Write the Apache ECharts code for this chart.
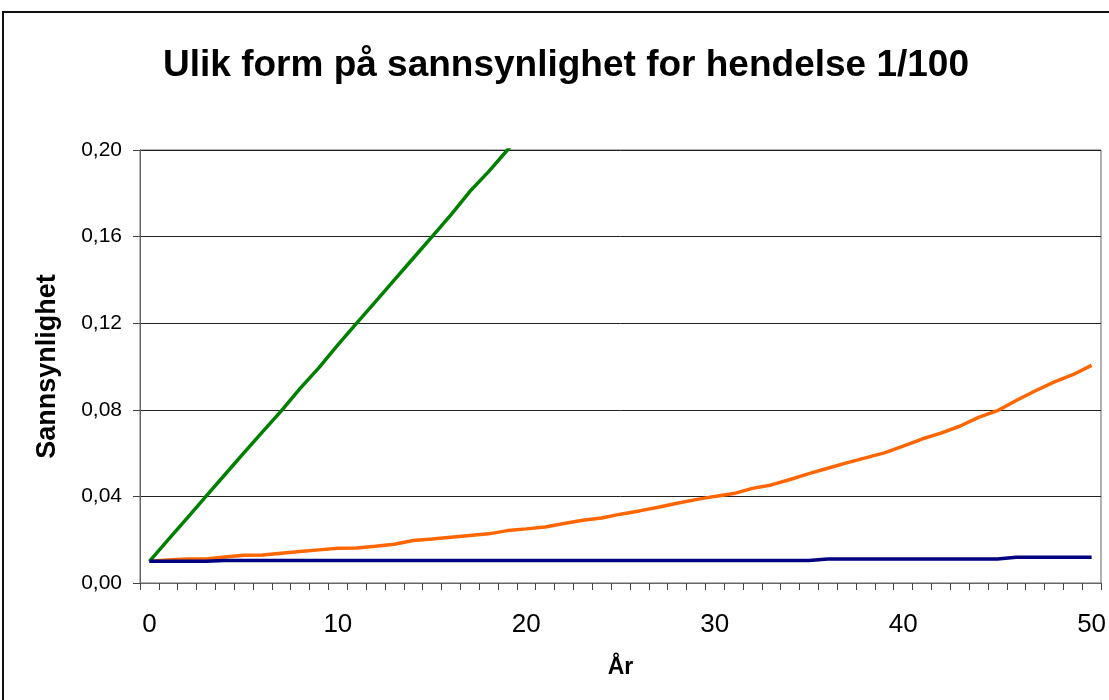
<!DOCTYPE html>
<html>
<head>
<meta charset="utf-8">
<script src="https://cdn.jsdelivr.net/npm/echarts@6/dist/echarts.min.js"></script>
<style>
  html, body { margin: 0; padding: 0; background: #fff; }
  #chart { width: 1109px; height: 700px; }
</style>
</head>
<body>
<div id="chart"></div>
<script>
const titleText = 'Ulik form på sannsynlighet for hendelse 1/100';
const yAxisName = 'Sannsynlighet';
const xAxisName = 'År';

const years = [];
for (let i = 0; i <= 50; i++) years.push(String(i));

const greenValues = [
  0.010, 0.020, 0.030, 0.040, 0.050, 0.060, 0.0698, 0.0795, 0.0899, 0.0995,
  0.110, 0.120, 0.130, 0.140, 0.150, 0.160, 0.170, 0.1808, 0.190, 0.200,
  0.210
];

const orangeValues = [
  0.0100, 0.0106, 0.0111, 0.0111, 0.0120, 0.0128, 0.0129, 0.0137, 0.0145, 0.0153,
  0.0160, 0.0162, 0.0170, 0.0179, 0.0196, 0.0203, 0.0211, 0.0219, 0.0227, 0.0242,
  0.0250, 0.0259, 0.0275, 0.0290, 0.0300, 0.0318, 0.0333, 0.0350, 0.0368, 0.0385,
  0.0400, 0.0413, 0.0437, 0.0453, 0.0478, 0.0505, 0.0530, 0.0555, 0.0578, 0.0601,
  0.0632, 0.0665, 0.0692, 0.0724, 0.0765, 0.0796, 0.0843, 0.0887, 0.0928, 0.0962,
  0.1005
];

const blueValues = [
  0.0100, 0.0100, 0.0100, 0.0100, 0.0104, 0.0104, 0.0104, 0.0104, 0.0104, 0.0104,
  0.0104, 0.0104, 0.0104, 0.0104, 0.0104, 0.0104, 0.0104, 0.0104, 0.0104, 0.0104,
  0.0104, 0.0104, 0.0104, 0.0104, 0.0104, 0.0104, 0.0104, 0.0104, 0.0104, 0.0104,
  0.0104, 0.0104, 0.0104, 0.0104, 0.0104, 0.0104, 0.0111, 0.0111, 0.0111, 0.0111,
  0.0111, 0.0111, 0.0111, 0.0111, 0.0111, 0.0111, 0.0119, 0.0119, 0.0119, 0.0119,
  0.0119
];

const yTicks = [0, 0.04, 0.08, 0.12, 0.16, 0.20];

const FONT = "'Liberation Sans', Arial, sans-serif";

const chart = echarts.init(document.getElementById('chart'), null, { renderer: 'canvas' });
chart.setOption({
  animation: false,
  backgroundColor: '#ffffff',
  title: {
    text: titleText,
    left: 163,
    top: 47,
    padding: 0,
    textStyle: { fontFamily: FONT, fontSize: 37, fontWeight: 'bold', color: '#000' }
  },
  graphic: [{
    type: 'rect',
    shape: { x: 3, y: 12, width: 1200, height: 800 },
    style: { fill: 'none', stroke: '#111', lineWidth: 2 },
    silent: true,
    z: 100
  }],
  grid: {
    left: 140, right: 3, top: 150, bottom: 117,
    show: true, borderColor: '#666', borderWidth: 1, backgroundColor: 'transparent'
  },
  xAxis: {
    type: 'category',
    data: years,
    boundaryGap: true,
    name: xAxisName,
    nameLocation: 'middle',
    nameGap: 73,
    nameTextStyle: { fontFamily: FONT, fontSize: 23, fontWeight: 'bold', color: '#000' },
    axisLine: { show: true, lineStyle: { color: '#666', width: 1 } },
    axisTick: { show: true, interval: 0, length: 7, inside: false, lineStyle: { color: '#444' } },
    axisLabel: {
      interval: function (idx) { return idx % 10 === 0; },
      margin: 29,
      fontFamily: FONT, fontSize: 26, color: '#000'
    },
    splitLine: { show: false }
  },
  yAxis: {
    type: 'value',
    min: 0, max: 0.2, interval: 0.04,
    name: yAxisName,
    nameLocation: 'middle',
    nameGap: 79,
    nameRotate: 90,
    nameTextStyle: { fontFamily: FONT, fontSize: 27, fontWeight: 'bold', color: '#000' },
    axisLine: { show: true, lineStyle: { color: '#666', width: 1 } },
    axisTick: { show: true, length: 7, lineStyle: { color: '#444' } },
    axisLabel: {
      margin: 18,
      fontFamily: FONT, fontSize: 21, color: '#000',
      formatter: function (v) {
        const t = yTicks.find(function (k) { return Math.abs(k - v) < 1e-9; });
        return (t !== undefined ? t : v).toFixed(2).replace('.', ',');
      }
    },
    splitLine: { show: true, lineStyle: { color: '#222', width: 1 } }
  },
  series: [
    {
      name: 'Grønn', type: 'line', data: greenValues, showSymbol: false, symbol: 'none',
      clip: true, lineStyle: { color: '#008000', width: 3.5 }, z: 3
    },
    {
      name: 'Oransje', type: 'line', data: orangeValues, showSymbol: false, symbol: 'none',
      clip: true, lineStyle: { color: '#FF6600', width: 3.5 }, z: 2
    },
    {
      name: 'Blå', type: 'line', data: blueValues, showSymbol: false, symbol: 'none',
      clip: true, lineStyle: { color: '#000080', width: 3.5 }, z: 4
    }
  ]
});
</script>
</body>
</html>
